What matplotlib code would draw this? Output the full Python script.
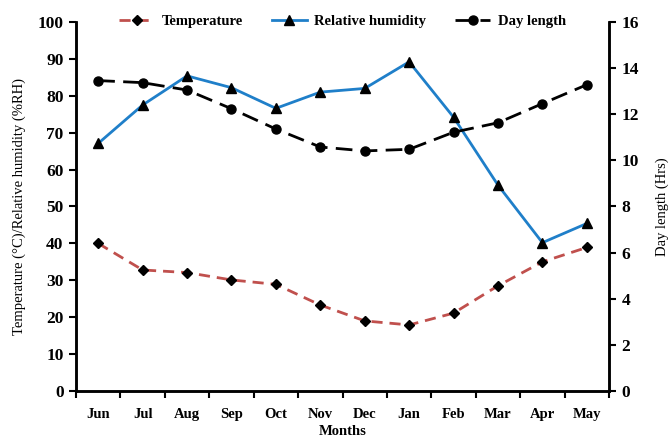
import matplotlib
matplotlib.use("Agg")
import matplotlib.pyplot as plt
import numpy as np

months = ["Jun", "Jul", "Aug", "Sep", "Oct", "Nov", "Dec", "Jan", "Feb", "Mar", "Apr", "May"]
temperature = [40.0, 32.8, 32.1, 30.1, 28.9, 23.3, 19.0, 17.9, 21.1, 28.5, 35.0, 38.9]
humidity = [67.1, 77.5, 85.4, 82.2, 76.6, 81.0, 82.0, 89.2, 74.2, 55.8, 40.2, 45.4]
day_length = [13.46, 13.37, 13.05, 12.24, 11.36, 10.58, 10.41, 10.48, 11.22, 11.63, 12.46, 13.28]

plt.rcParams["font.family"] = ["Liberation Serif", "DejaVu Serif"]

fig = plt.figure(figsize=(6.69, 4.43), dpi=100)
ax = fig.add_axes([76 / 669, 1 - 391 / 443, (609 - 76) / 669, (391 - 22) / 443])
ax2 = ax.twinx()

x = np.arange(len(months))
l1, = ax.plot(x, temperature, color="#c0504d", ls=(0, (4, 2.5)), lw=2,
              marker="D", ms=5, mfc="black", mec="black", label="Temperature")
l2, = ax.plot(x, humidity, color="#1f7fc9", lw=2,
              marker="^", ms=7, mfc="black", mec="black", label="Relative humidity")
l3, = ax2.plot(x, day_length, color="black", ls=(0, (6, 3)), lw=2,
               marker="o", ms=6.5, mfc="black", mec="black", label="Day length")

ax.set_xlim(-0.5, len(months) - 0.5)
ax.set_ylim(0, 100)
ax2.set_ylim(0, 16)
ax.set_yticks(np.arange(0, 101, 10))
ax2.set_yticks(np.arange(0, 17, 2))
ax.set_xticks(x)
ax.set_xticklabels(months, fontweight="bold", fontsize=10.5)
ax.set_xticks(np.arange(-0.5, len(months), 1), minor=True)
ax.tick_params(axis="x", which="major", length=0, pad=12)
ax.tick_params(axis="x", which="minor", length=5, width=1.5, direction="out")
ax.tick_params(axis="y", length=5, width=1.5, direction="out", pad=4)
ax2.tick_params(axis="y", length=5, width=1.5, direction="out", pad=4)
for lab in ax.get_yticklabels() + ax2.get_yticklabels():
    lab.set_fontweight("bold")
    lab.set_fontsize(12.5)

for a in (ax, ax2):
    a.spines["top"].set_visible(False)
    for s in ("left", "right", "bottom"):
        a.spines[s].set_linewidth(1.8)

ax.set_ylabel("Temperature (°C)/Relative humidity (%RH)", fontsize=10.5, labelpad=8)
ax2.set_ylabel("Day length (Hrs)", fontsize=10.5, labelpad=12)
ax.set_xlabel("Months", fontweight="bold", fontsize=10.5, labelpad=3)

leg = ax.legend(handles=[l1, l2, l3], loc="upper center", bbox_to_anchor=(0.5, 1.055),
                ncol=3, frameon=False, handlelength=2.4, handletextpad=0.5,
                columnspacing=2.0, prop={"weight": "bold", "size": 10.5})

fig.savefig("out.png", dpi=100)
